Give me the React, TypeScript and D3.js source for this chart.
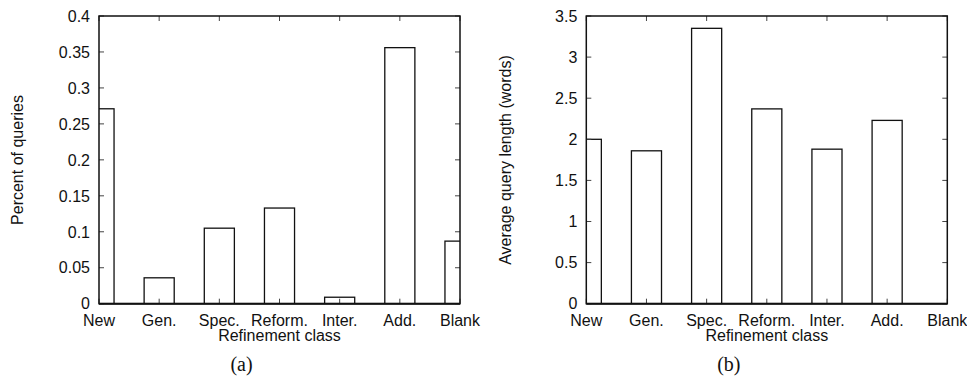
import React, { useRef, useEffect } from 'react';
import * as d3 from 'd3';

const categories = ['New', 'Gen.', 'Spec.', 'Reform.', 'Inter.', 'Add.', 'Blank'];
const percentQueries = [0.271, 0.036, 0.105, 0.133, 0.009, 0.356, 0.087];
const avgQueryLength = [2.0, 1.86, 3.35, 2.37, 1.88, 2.23, 0];
const percentTicks = [0, 0.05, 0.1, 0.15, 0.2, 0.25, 0.3, 0.35, 0.4];
const lengthTicks = [0, 0.5, 1, 1.5, 2, 2.5, 3, 3.5];

const SANS = '"Liberation Sans", Arial, Helvetica, sans-serif';
const SERIF = '"Liberation Serif", "Times New Roman", serif';

const drawPanel = (svg, opts) => {
  const { left, values, ticks, yMax, yLabel, yLabelX, caption, id } = opts;
  const width = 361;
  const top = 16;
  const bottom = 303.7;
  const right = left + width;

  const g = svg.append('g');

  //scales
  const x = d3.scalePoint().domain(categories).range([left, right]);
  const y = d3.scaleLinear().domain([0, yMax]).range([bottom, top]);
  const barW = x.step() * 0.5;

  //clip bars to plot area
  svg.append('defs').append('clipPath').attr('id', id)
    .append('rect')
    .attr('x', left).attr('y', top)
    .attr('width', width).attr('height', bottom - top);

  //bars
  g.append('g').attr('clip-path', `url(#${id})`)
    .selectAll('rect')
    .data(values)
    .join('rect')
    .attr('x', (d, i) => x(categories[i]) - barW / 2)
    .attr('y', d => y(d))
    .attr('width', barW)
    .attr('height', d => y(0) - y(d))
    .attr('fill', '#fff')
    .attr('stroke', '#111')
    .attr('stroke-width', 1.3);

  //inner ticks, all four sides
  const tickLen = 5;
  g.append('g').selectAll('line.yl').data(ticks).join('line')
    .attr('x1', left).attr('x2', left + tickLen)
    .attr('y1', d => y(d)).attr('y2', d => y(d))
    .attr('stroke', '#444').attr('stroke-width', 1);
  g.append('g').selectAll('line.yr').data(ticks).join('line')
    .attr('x1', right).attr('x2', right - tickLen)
    .attr('y1', d => y(d)).attr('y2', d => y(d))
    .attr('stroke', '#444').attr('stroke-width', 1);
  g.append('g').selectAll('line.xb').data(categories).join('line')
    .attr('x1', d => x(d)).attr('x2', d => x(d))
    .attr('y1', bottom).attr('y2', bottom - tickLen)
    .attr('stroke', '#444').attr('stroke-width', 1);
  g.append('g').selectAll('line.xt').data(categories).join('line')
    .attr('x1', d => x(d)).attr('x2', d => x(d))
    .attr('y1', top).attr('y2', top + tickLen)
    .attr('stroke', '#444').attr('stroke-width', 1);

  //frame
  g.append('rect')
    .attr('x', left).attr('y', top)
    .attr('width', width).attr('height', bottom - top)
    .attr('fill', 'none')
    .attr('stroke', '#111')
    .attr('stroke-width', 1.5);
  g.append('line')
    .attr('x1', left).attr('x2', right)
    .attr('y1', bottom).attr('y2', bottom)
    .attr('stroke', '#111').attr('stroke-width', 2);

  //y tick labels
  const fmt = d3.format('~g');
  g.append('g').selectAll('text').data(ticks).join('text')
    .attr('x', left - 9)
    .attr('y', d => y(d))
    .attr('dy', '0.36em')
    .attr('text-anchor', 'end')
    .style('font-family', SANS)
    .style('font-size', '16px')
    .attr('fill', '#111')
    .text(d => fmt(d));

  //x tick labels
  g.append('g').selectAll('text').data(categories).join('text')
    .attr('x', d => x(d))
    .attr('y', 325.5)
    .attr('text-anchor', 'middle')
    .style('font-family', SANS)
    .style('font-size', '16px')
    .attr('fill', '#111')
    .text(d => d);

  //axis titles
  g.append('text')
    .attr('x', (left + right) / 2)
    .attr('y', 341)
    .attr('text-anchor', 'middle')
    .style('font-family', SANS)
    .style('font-size', '16px')
    .attr('fill', '#111')
    .text('Refinement class');

  g.append('text')
    .attr('transform', `translate(${yLabelX},160) rotate(-90)`)
    .attr('text-anchor', 'middle')
    .style('font-family', SANS)
    .style('font-size', '16px')
    .attr('fill', '#111')
    .text(yLabel);

  //caption
  g.append('text')
    .attr('x', (left + right) / 2 - 38)
    .attr('y', 371)
    .attr('text-anchor', 'middle')
    .style('font-family', SERIF)
    .style('font-size', '20px')
    .attr('fill', '#111')
    .text(caption);
};

const App = () => {
  const chartRef = useRef(null);

  useEffect(() => {
    const svg = d3.select(chartRef.current);
    svg.selectAll('*').remove();

    drawPanel(svg, {
      id: 'clipA',
      left: 99,
      values: percentQueries,
      ticks: percentTicks,
      yMax: 0.4,
      yLabel: 'Percent of queries',
      yLabelX: 23,
      caption: '(a)',
    });

    drawPanel(svg, {
      id: 'clipB',
      left: 586.3,
      values: avgQueryLength,
      ticks: lengthTicks,
      yMax: 3.5,
      yLabel: 'Average query length (words)',
      yLabelX: 511,
      caption: '(b)',
    });
  }, []);

  return (
    <svg
      ref={chartRef}
      width={967}
      height={378}
      style={{ position: 'absolute', left: 0, top: 0, background: '#fff' }}
    />
  );
};

export default App;
